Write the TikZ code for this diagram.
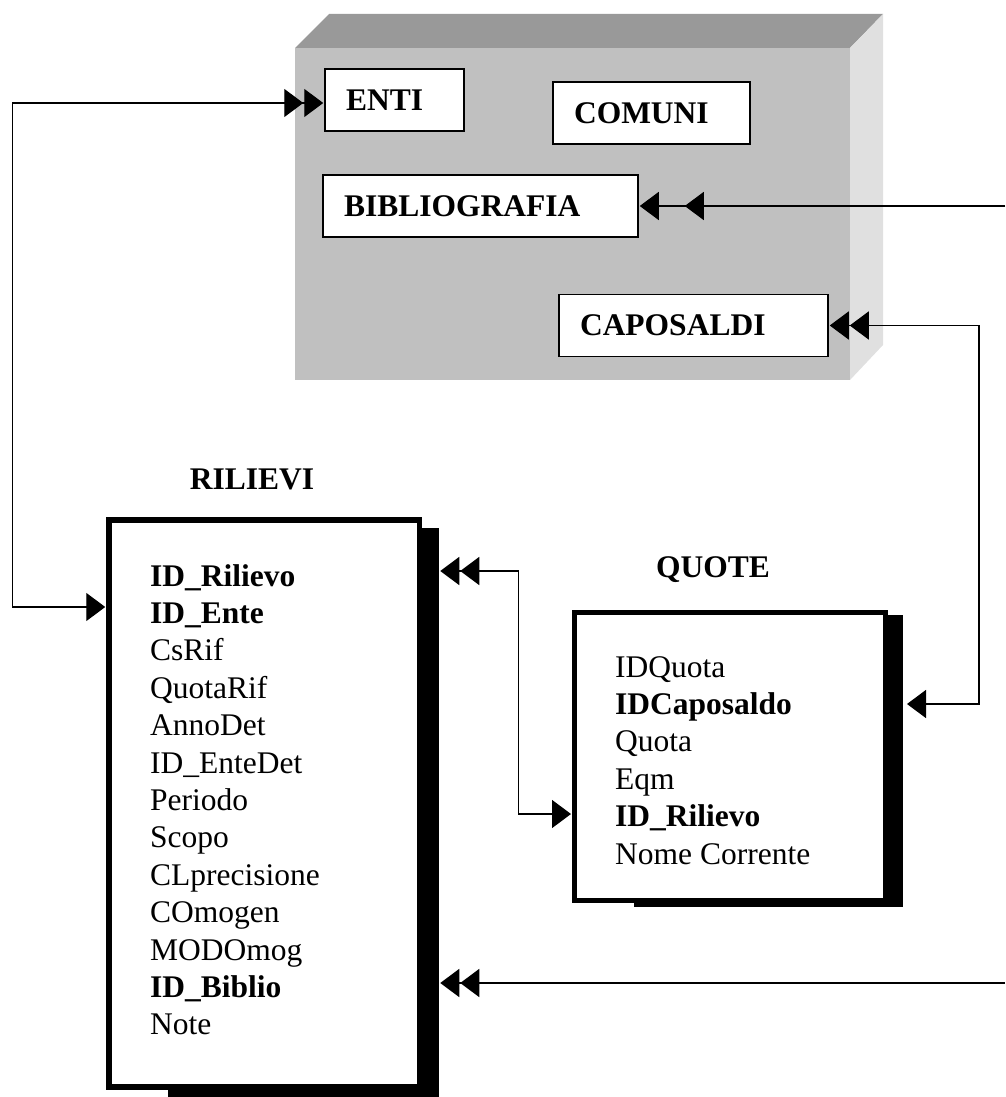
\documentclass[tikz,border=0pt]{standalone}
\usepackage{fontspec}
\setmainfont{Liberation Serif}
\usetikzlibrary{arrows.meta,positioning}

\definecolor{grigiofronte}{HTML}{C0C0C0}
\definecolor{grigiosopra}{HTML}{999999}
\definecolor{grigiolato}{HTML}{E0E0E0}

\begin{document}
\begin{tikzpicture}[x=1pt,y=-1pt,
  >={Triangle[length=19pt,width=28pt,sep=1pt]},
  cassetto/.style={draw,fill=white,line width=1.5pt,minimum height=62pt,
    inner xsep=21pt,inner ysep=0pt,text width=#1,align=left,
    font=\fontsize{31.5}{37.4}\selectfont\bfseries},
  tabella/.style={draw,fill=white,line width=5.5pt},
  titolo/.style={font=\fontsize{31.5}{37.4}\selectfont\bfseries},
  campi/.style={anchor=north west,inner sep=0pt,align=left,
    font=\fontsize{31.5}{37.4}\selectfont},
  legame/.style={line width=1.3pt}]

  \useasboundingbox (0,0) rectangle (1005,1097);

  % blocco grigio
  \fill[grigiosopra] (295,48) -- (329,14) -- (883,14) -- (850,48) -- cycle;
  \fill[grigiolato] (850,48) -- (883,14) -- (883,345) -- (850,380) -- cycle;
  \fill[grigiofronte] (295,48) rectangle (850,380);

  \node[cassetto=97pt] (enti) at (394.5,100) {ENTI};
  \node[cassetto=155pt] (comuni) at (651.5,113) {COMUNI};
  \node[cassetto=273pt] (biblio) at (480.5,206) {BIBLIOGRAFIA};
  \node[cassetto=227pt] (caposaldi) at (693.5,325.5) {CAPOSALDI};

  % RILIEVI
  \fill (168,528) rectangle (439,1100);
  \node[tabella,minimum width=310.5pt,minimum height=567pt] (rilievi) at (264.25,803.5) {};
  \node[titolo] (rilievi-titolo) at (252,479) {RILIEVI};
  \node[campi] (rilievi-campi) at (150,564) {\textbf{ID\_Rilievo}\\ \textbf{ID\_Ente}\\
    CsRif\\ QuotaRif\\ AnnoDet\\ ID\_EnteDet\\ Periodo\\ Scopo\\ CLprecisione\\
    COmogen\\ MODOmog\\ \textbf{ID\_Biblio}\\ Note};

  % QUOTE
  \fill (634,615) rectangle (903,907);
  \node[tabella,line width=5pt,minimum width=311pt,minimum height=288pt] (quote) at (730,756) {};
  \node[titolo] (quote-titolo) at (713,570) {QUOTE};
  \node[campi] (quote-campi) at (615,656) {IDQuota\\ \textbf{IDCaposaldo}\\ Quota\\
    Eqm\\ \textbf{ID\_Rilievo}\\ Nome Corrente};

  % legami
  \coordinate (bordo-biblio) at (1005,206);
  \coordinate (bordo-rilievi) at (1005,983);
  \draw[legame,<->>] ([yshift=196.5pt]rilievi.west) -- ++(-94,0) |- ([yshift=-3pt]enti.west);
  \draw[legame,->] (bordo-biblio) -- (biblio.east);
  \draw[legame,->] (bordo-biblio) -- ([xshift=45pt]biblio.east);
  \draw[legame,<->>] ([xshift=18pt,yshift=52pt]quote.east) -- ++(73,0) |- (caposaldi.east);
  \draw[legame,<<->] ([xshift=17pt,yshift=232.5pt]rilievi.east) -- ++(79,0) |- ([yshift=-58pt]quote.west);
  \draw[legame,->>] (bordo-rilievi) -- ([xshift=17pt,yshift=-179.5pt]rilievi.east);
\end{tikzpicture}
\end{document}
